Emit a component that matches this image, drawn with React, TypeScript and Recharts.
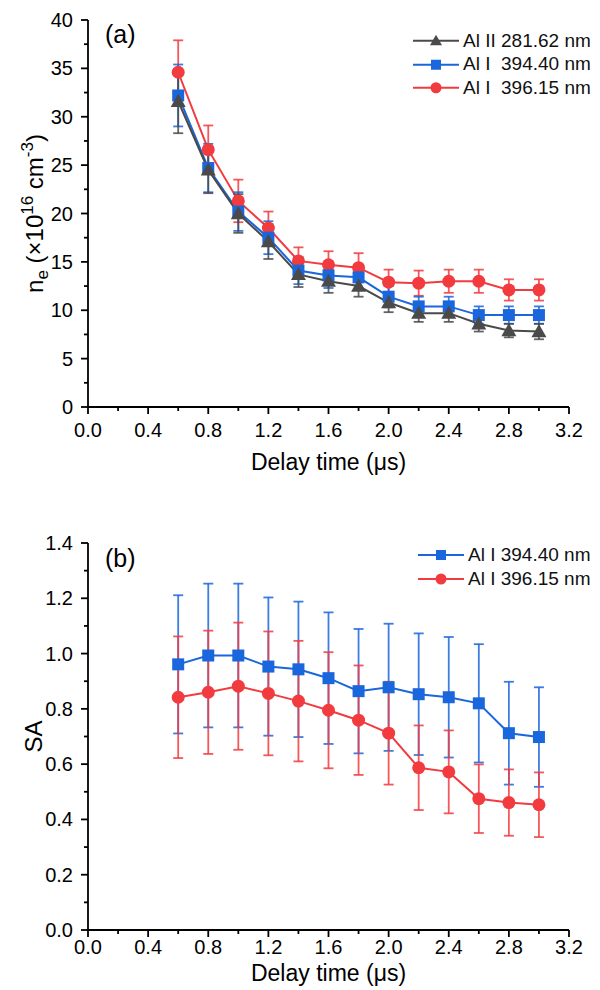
import React from 'react';
import { LineChart, Line, XAxis, YAxis, ErrorBar, Legend } from 'recharts';

// delay time (µs)
const delayTime = [0.6, 0.8, 1.0, 1.2, 1.4, 1.6, 1.8, 2.0, 2.2, 2.4, 2.6, 2.8, 3.0];

// (a) electron density, x10^16 cm^-3
const neAlII281 = [31.6, 24.5, 20.0, 17.1, 13.7, 13.0, 12.5, 10.8, 9.7, 9.7, 8.6, 7.9, 7.8];
const neAlII281Err = [3.3, 2.4, 2.0, 1.8, 1.3, 1.2, 1.1, 1.0, 0.9, 0.9, 0.8, 0.7, 0.8];
const neAlI394 = [32.2, 24.7, 20.2, 17.5, 14.1, 13.6, 13.4, 11.4, 10.4, 10.4, 9.5, 9.5, 9.5];
const neAlI394Err = [3.2, 2.5, 2.0, 1.7, 1.4, 1.3, 1.3, 1.1, 1.0, 1.0, 0.9, 0.9, 0.9];
const neAlI396 = [34.6, 26.6, 21.3, 18.5, 15.1, 14.7, 14.4, 12.9, 12.8, 13.0, 13.0, 12.1, 12.1];
const neAlI396Err = [3.3, 2.5, 2.2, 1.7, 1.4, 1.4, 1.5, 1.3, 1.3, 1.2, 1.2, 1.1, 1.1];

// (b) SA
const saAlI394 = [0.961, 0.993, 0.993, 0.953, 0.943, 0.911, 0.864, 0.878, 0.853, 0.842, 0.82, 0.712, 0.698];
const saAlI394Err = [0.25, 0.26, 0.26, 0.25, 0.245, 0.238, 0.225, 0.23, 0.22, 0.218, 0.214, 0.186, 0.18];
const saAlI396 = [0.842, 0.86, 0.882, 0.856, 0.828, 0.795, 0.759, 0.712, 0.587, 0.572, 0.475, 0.461, 0.453];
const saAlI396Err = [0.22, 0.223, 0.23, 0.224, 0.218, 0.21, 0.198, 0.186, 0.153, 0.15, 0.124, 0.12, 0.117];

// ticks (major + minor)
const xTicks = [0, 0.2, 0.4, 0.6, 0.8, 1.0, 1.2, 1.4, 1.6, 1.8, 2.0, 2.2, 2.4, 2.6, 2.8, 3.0, 3.2];
const neTicks = [0, 2.5, 5, 7.5, 10, 12.5, 15, 17.5, 20, 22.5, 25, 27.5, 30, 32.5, 35, 37.5, 40];
const saTicks = [0, 0.1, 0.2, 0.3, 0.4, 0.5, 0.6, 0.7, 0.8, 0.9, 1.0, 1.1, 1.2, 1.3, 1.4];

const FONT = '"Liberation Sans", Arial, sans-serif';
const GRAY = '#4a4a4a';
const BLUE = '#1a66dc';
const RED = '#f23b3f';

const dataA = delayTime.map((t, i) => ({
  t,
  alII281: neAlII281[i],
  alII281Err: neAlII281Err[i],
  alI394: neAlI394[i],
  alI394Err: neAlI394Err[i],
  alI396: neAlI396[i],
  alI396Err: neAlI396Err[i],
}));

const dataB = delayTime.map((t, i) => ({
  t,
  alI394: saAlI394[i],
  alI394Err: saAlI394Err[i],
  alI396: saAlI396[i],
  alI396Err: saAlI396Err[i],
}));

const isMajor = (v: number, step: number) => Math.abs(v / step - Math.round(v / step)) < 1e-6;

const makeXTick = (labelDy: number) => ({ x, y, payload }: any) => {
  const major = isMajor(payload.value, 0.4);
  return (
    <g>
      <line x1={x} x2={x} y1={y} y2={y + (major ? 7 : 4)} stroke="#000" strokeWidth={1.8} />
      {major && (
        <text x={x} y={y + labelDy} textAnchor="middle" fontFamily={FONT} fontSize={20} fill="#000">
          {payload.value.toFixed(1)}
        </text>
      )}
    </g>
  );
};

const makeYTick = (step: number, digits: number) => ({ x, y, payload }: any) => {
  const major = isMajor(payload.value, step);
  return (
    <g>
      <line x1={x} x2={x - (major ? 7 : 4)} y1={y} y2={y} stroke="#000" strokeWidth={1.8} />
      {major && (
        <text x={x - 15} y={y + 7} textAnchor="end" fontFamily={FONT} fontSize={20} fill="#000">
          {payload.value.toFixed(digits)}
        </text>
      )}
    </g>
  );
};

const Triangle = ({ cx, cy, fill, s = 7.5 }: any) =>
  cx == null ? null : (
    <path d={`M${cx},${cy - s} L${cx + s},${cy + s * 0.75} L${cx - s},${cy + s * 0.75} Z`} fill={fill} />
  );
const Square = ({ cx, cy, fill, s = 6 }: any) =>
  cx == null ? null : <rect x={cx - s} y={cy - s} width={s * 2} height={s * 2} fill={fill} />;
const Circle = ({ cx, cy, fill, r = 6.5 }: any) =>
  cx == null ? null : <circle cx={cx} cy={cy} r={r} fill={fill} />;

const markers: Record<string, any> = { triangle: Triangle, square: Square, circle: Circle };

const seriesA = [
  { key: 'alI396', name: 'Al I  396.15 nm', color: RED, marker: 'circle' },
  { key: 'alI394', name: 'Al I  394.40 nm', color: BLUE, marker: 'square' },
  { key: 'alII281', name: 'Al II 281.62 nm', color: GRAY, marker: 'triangle' },
];
const legendA = ['alII281', 'alI394', 'alI396'];

const seriesB = [
  { key: 'alI394', name: 'Al I 394.40 nm', color: BLUE, marker: 'square' },
  { key: 'alI396', name: 'Al I 396.15 nm', color: RED, marker: 'circle' },
];
const legendB = ['alI394', 'alI396'];

const renderLegend = (series: any[], order: string[], rowH: number) => () => (
  <div style={{ fontFamily: FONT, fontSize: 19, color: '#111' }}>
    {order.map((k) => {
      const s = series.find((d) => d.key === k);
      const M = markers[s.marker];
      return (
        <div key={k} style={{ display: 'flex', alignItems: 'center', height: rowH, whiteSpace: 'pre' }}>
          <svg width={50} height={rowH} style={{ display: 'block' }}>
            <line x1={0} x2={46} y1={rowH / 2} y2={rowH / 2} stroke={s.color} strokeWidth={2} />
            <M cx={23} cy={rowH / 2} fill={s.color} s={s.marker === 'triangle' ? 6 : 5} r={5.5} />
          </svg>
          <span>{s.name}</span>
        </div>
      );
    })}
  </div>
);

const NeLabel = ({ viewBox }: any) => {
  const cy = viewBox.y + viewBox.height / 2;
  return (
    <text
      x={43}
      y={cy}
      transform={`rotate(-90, 43, ${cy})`}
      textAnchor="middle"
      fontFamily={FONT}
      fontSize={24}
      fill="#000"
    >
      n<tspan fontSize={17} dy={5}>e</tspan>
      <tspan dy={-5}> (×10</tspan>
      <tspan fontSize={17} dy={-10}>16</tspan>
      <tspan dy={10}> cm</tspan>
      <tspan fontSize={17} dy={-10}>-3</tspan>
      <tspan dy={10}>)</tspan>
    </text>
  );
};

const SaLabel = ({ viewBox }: any) => {
  const cy = viewBox.y + viewBox.height / 2;
  return (
    <text x={42} y={cy} transform={`rotate(-90, 42, ${cy})`} textAnchor="middle" fontFamily={FONT} fontSize={24} fill="#000">
      SA
    </text>
  );
};

const makeXLabel = (dy: number) => ({ viewBox }: any) => (
  <text
    x={viewBox.x + viewBox.width / 2}
    y={viewBox.y + dy}
    textAnchor="middle"
    fontFamily={FONT}
    fontSize={23}
    fill="#000"
  >
    Delay time (μs)
  </text>
);

const renderSeries = (series: any[]) =>
  series.map((s) => {
    const M = markers[s.marker];
    return (
      <Line
        key={s.key}
        dataKey={s.key}
        name={s.name}
        stroke={s.color}
        strokeWidth={2}
        isAnimationActive={false}
        activeDot={false}
        dot={(p: any) => <M key={`${s.key}-${p.index}`} cx={p.cx} cy={p.cy} fill={s.color} />}
      >
        <ErrorBar dataKey={`${s.key}Err`} direction="y" width={5} stroke={s.color} strokeWidth={1.8} strokeOpacity={0.85} isAnimationActive={false} />
      </Line>
    );
  });

export default function App() {
  return (
    <div style={{ position: 'absolute', left: 0, top: 0, width: 600, height: 990, background: '#fff' }}>
      <div style={{ position: 'absolute', left: 0, top: 0 }}>
        <LineChart width={600} height={495} data={dataA} margin={{ top: 20, right: 31, bottom: 18, left: 28 }}>
          <XAxis
            dataKey="t"
            type="number"
            domain={[0, 3.2]}
            ticks={xTicks}
            interval={0}
            tickSize={0}
            tickMargin={0}
            tick={makeXTick(30)}
            height={70}
            stroke="#000"
            strokeWidth={1.8}
            label={{ content: makeXLabel(63) }}
          />
          <YAxis
            type="number"
            domain={[0, 40]}
            ticks={neTicks}
            interval={0}
            tickSize={0}
            tickMargin={0}
            tick={makeYTick(5, 0)}
            width={60}
            stroke="#000"
            strokeWidth={1.8}
            label={{ content: (p: any) => <NeLabel {...p} /> }}
          />
          {renderSeries(seriesA)}
          <Legend
            layout="horizontal"
            verticalAlign="middle"
            align="center"
            wrapperStyle={{ top: 29, left: 413, width: 187 }}
            content={renderLegend(seriesA, legendA, 23.5)}
          />
        </LineChart>
        <div style={{ position: 'absolute', left: 105, top: 20, fontFamily: FONT, fontSize: 25 }}>(a)</div>
      </div>
      <div style={{ position: 'absolute', left: 0, top: 495 }}>
        <LineChart width={600} height={495} data={dataB} margin={{ top: 48, right: 31, bottom: 5, left: 28 }}>
          <XAxis
            dataKey="t"
            type="number"
            domain={[0, 3.2]}
            ticks={xTicks}
            interval={0}
            tickSize={0}
            tickMargin={0}
            tick={makeXTick(24)}
            height={55}
            stroke="#000"
            strokeWidth={1.8}
            label={{ content: makeXLabel(51) }}
          />
          <YAxis
            type="number"
            domain={[0, 1.4]}
            ticks={saTicks}
            interval={0}
            tickSize={0}
            tickMargin={0}
            tick={makeYTick(0.2, 1)}
            width={60}
            stroke="#000"
            strokeWidth={1.8}
            label={{ content: (p: any) => <SaLabel {...p} /> }}
          />
          {renderSeries(seriesB)}
          <Legend
            layout="horizontal"
            verticalAlign="middle"
            align="center"
            wrapperStyle={{ top: 48, left: 418, width: 182 }}
            content={renderLegend(seriesB, legendB, 24)}
          />
        </LineChart>
        <div style={{ position: 'absolute', left: 105, top: 49, fontFamily: FONT, fontSize: 25 }}>(b)</div>
      </div>
    </div>
  );
}
